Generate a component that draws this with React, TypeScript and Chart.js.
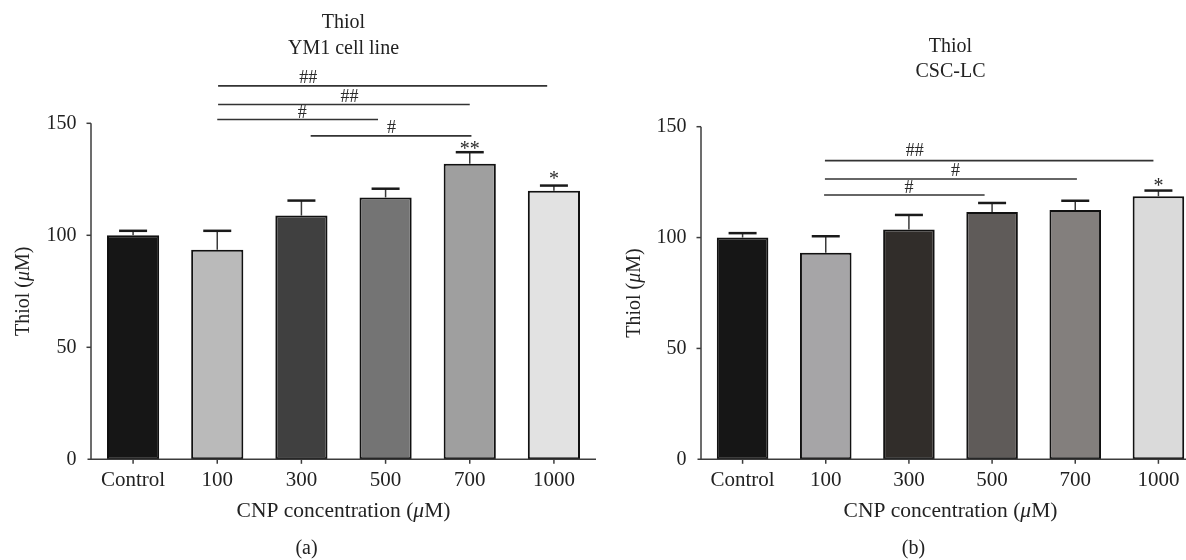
import React, { useEffect, useRef } from "react";
import { Chart, registerables } from "chart.js";

Chart.register(...registerables);

const FONT = '"Liberation Serif", "Times New Roman", serif';

// ---- data ----
const categories = ["Control", "100", "300", "500", "700", "1000"];
const yTicks = [0, 50, 100, 150];

const ym1Values = [100, 93.5, 108.8, 116.9, 131.9, 119.9];
const ym1Errors = [2, 8.5, 6.7, 3.9, 5.2, 2.3];
const ym1Colors = ["#161616", "#bababa", "#404040", "#747474", "#9f9f9f", "#e2e2e2"];
const ym1Sig = [
  { from: 1.01, to: 4.92, y: 166.7, label: "##", lx: 2.08, ly: 170.8 },
  { from: 1.01, to: 4.0, y: 158.4, label: "##", lx: 2.57, ly: 162.2 },
  { from: 1.0, to: 2.91, y: 151.7, label: "#", lx: 2.01, ly: 155.0 },
  { from: 2.11, to: 4.02, y: 144.4, label: "#", lx: 3.07, ly: 148.6 },
];
const ym1Stars = [
  { index: 4, label: "**", y: 140.5 },
  { index: 5, label: "*", y: 127.0 },
];

const cscValues = [100, 93.1, 103.6, 111.5, 112.4, 118.6];
const cscErrors = [2, 7.5, 6.6, 4.1, 4.2, 2.6];
const cscColors = ["#161616", "#a6a5a7", "#312d2a", "#5f5b59", "#837f7d", "#dadada"];
const cscSig = [
  { from: 0.99, to: 4.94, y: 134.7, label: "##", lx: 2.07, ly: 139.5 },
  { from: 0.99, to: 4.02, y: 126.4, label: "#", lx: 2.56, ly: 130.5 },
  { from: 0.98, to: 2.91, y: 119.2, label: "#", lx: 2.0, ly: 122.7 },
];
const cscStars = [{ index: 5, label: "*", y: 125.2 }];

type Panel = {
  values: number[];
  errors: number[];
  colors: string[];
  sig: { from: number; to: number; y: number; label: string; lx: number; ly: number }[];
  stars: { index: number; label: string; y: number }[];
  title: string[];
  titleY: number[];
  panelLabel: string;
  yMax: number;
  padTop: number;
  padRight: number;
  yWidth: number;
  yTitleX: number;
  width: number;
};

const BOTTOM = 459.3;
const H = 560;

const leftPanel: Panel = {
  values: ym1Values,
  errors: ym1Errors,
  colors: ym1Colors,
  sig: ym1Sig,
  stars: ym1Stars,
  title: ["Thiol", "YM1 cell line"],
  titleY: [22.7, 48.3],
  panelLabel: "(a)",
  yMax: 180,
  padTop: BOTTOM - 180 * 2.24,
  padRight: 4,
  yWidth: 91,
  yTitleX: 23.7,
  width: 600,
};

const rightPanel: Panel = {
  values: cscValues,
  errors: cscErrors,
  colors: cscColors,
  sig: cscSig,
  stars: cscStars,
  title: ["Thiol", "CSC-LC"],
  titleY: [46.7, 71.7],
  panelLabel: "(b)",
  yMax: 180,
  padTop: BOTTOM - 180 * 2.2173,
  padRight: 20,
  yWidth: 101,
  yTitleX: 34.4,
  width: 620,
};

type Part = { t: string; italic?: boolean };

function drawRich(ctx: CanvasRenderingContext2D, parts: Part[], x: number, y: number, size: number) {
  let total = 0;
  const widths = parts.map((p) => {
    ctx.font = `${p.italic ? "italic " : ""}${size}px ${FONT}`;
    const w = ctx.measureText(p.t).width;
    total += w;
    return w;
  });
  let cx = x - total / 2;
  ctx.textAlign = "left";
  parts.forEach((p, i) => {
    ctx.font = `${p.italic ? "italic " : ""}${size}px ${FONT}`;
    ctx.fillText(p.t, cx, y);
    cx += widths[i];
  });
}

function makePlugin(panel: Panel) {
  return {
    id: "thiolExtras",
    afterDatasetsDraw(chart: any) {
      const ctx: CanvasRenderingContext2D = chart.ctx;
      const xs = chart.scales.x;
      const ys = chart.scales.y;
      const ca = chart.chartArea;
      const y0 = ys.getPixelForValue(0);
      const yTop = ys.getPixelForValue(yTicks[yTicks.length - 1]);
      ctx.save();

      // error bars (upper only)
      panel.values.forEach((v, i) => {
        const xc = xs.getPixelForValue(i);
        const yb = ys.getPixelForValue(v);
        const ye = ys.getPixelForValue(v + panel.errors[i]);
        ctx.strokeStyle = "#3a3a3a";
        ctx.lineWidth = 1.5;
        ctx.beginPath();
        ctx.moveTo(xc, yb);
        ctx.lineTo(xc, ye);
        ctx.stroke();
        ctx.strokeStyle = "#1a1a1a";
        ctx.lineWidth = 2.5;
        ctx.beginPath();
        ctx.moveTo(xc - 14, ye);
        ctx.lineTo(xc + 14, ye);
        ctx.stroke();
      });

      // axes
      ctx.strokeStyle = "#3c3c3c";
      ctx.lineWidth = 1.5;
      ctx.beginPath();
      ctx.moveTo(ca.left, y0);
      ctx.lineTo(ca.left, yTop);
      ctx.stroke();
      ctx.beginPath();
      ctx.moveTo(ca.left - 3.5, y0);
      ctx.lineTo(ca.right, y0);
      ctx.stroke();
      yTicks.forEach((t) => {
        if (t === 0) return;
        const yy = ys.getPixelForValue(t);
        ctx.beginPath();
        ctx.moveTo(ca.left - 4.5, yy);
        ctx.lineTo(ca.left, yy);
        ctx.stroke();
      });
      categories.forEach((_, i) => {
        const xc = xs.getPixelForValue(i);
        ctx.beginPath();
        ctx.moveTo(xc, y0);
        ctx.lineTo(xc, y0 + 4.5);
        ctx.stroke();
      });

      // significance lines
      ctx.fillStyle = "#2a2a2a";
      panel.sig.forEach((s) => {
        const yy = ys.getPixelForValue(s.y);
        ctx.strokeStyle = "#333";
        ctx.lineWidth = 1.6;
        ctx.beginPath();
        ctx.moveTo(xs.getPixelForValue(s.from), yy);
        ctx.lineTo(xs.getPixelForValue(s.to), yy);
        ctx.stroke();
        ctx.font = `18px ${FONT}`;
        ctx.textAlign = "center";
        ctx.textBaseline = "alphabetic";
        ctx.fillText(s.label, xs.getPixelForValue(s.lx), ys.getPixelForValue(s.ly) + 0.34 * 18);
      });

      // stars
      panel.stars.forEach((s) => {
        ctx.font = `20px ${FONT}`;
        ctx.textAlign = "center";
        ctx.textBaseline = "alphabetic";
        ctx.fillText(s.label, xs.getPixelForValue(s.index), ys.getPixelForValue(s.y) + 0.5 * 20);
      });

      // titles
      const cx = (ca.left + ca.right) / 2;
      ctx.fillStyle = "#222";
      ctx.textBaseline = "middle";
      ctx.textAlign = "center";
      ctx.font = `20px ${FONT}`;
      panel.title.forEach((t, i) => ctx.fillText(t, cx, panel.titleY[i]));

      // x axis title
      drawRich(ctx, [{ t: "CNP concentration (" }, { t: "\u03bc", italic: true }, { t: "M)" }], cx, 511.7, 21.5);
      // panel label
      ctx.font = `20px ${FONT}`;
      ctx.textAlign = "center";
      ctx.fillText(panel.panelLabel, cx - 37, 548.3);

      // y axis title
      ctx.save();
      ctx.translate(panel.yTitleX, (y0 + yTop) / 2);
      ctx.rotate(-Math.PI / 2);
      drawRich(ctx, [{ t: "Thiol (" }, { t: "\u03bc", italic: true }, { t: "M)" }], 0, 0, 20);
      ctx.restore();

      ctx.restore();
    },
  };
}

function ChartPanel({ panel, left }: { panel: Panel; left: number }) {
  const ref = useRef<HTMLCanvasElement>(null);
  useEffect(() => {
    if (!ref.current) return;
    const chart = new Chart(ref.current, {
      type: "bar",
      data: {
        labels: categories,
        datasets: [
          {
            data: panel.values,
            backgroundColor: panel.colors,
            borderColor: "#111",
            borderWidth: 2,
            borderSkipped: false,
            barPercentage: 0.62,
            categoryPercentage: 1,
          },
        ],
      },
      options: {
        animation: false,
        responsive: false,
        devicePixelRatio: 1,
        layout: { padding: { top: panel.padTop, left: 0, right: panel.padRight, bottom: 0 } },
        plugins: { legend: { display: false }, tooltip: { enabled: false }, title: { display: false } },
        scales: {
          x: {
            grid: { display: false, drawTicks: true, tickLength: 5 },
            border: { display: false },
            ticks: { font: { family: FONT, size: 21 }, color: "#222", padding: 4, maxRotation: 0, autoSkip: false },
            afterFit: (s: any) => {
              s.height = H - BOTTOM;
            },
          },
          y: {
            min: 0,
            max: panel.yMax,
            grid: { display: false, drawTicks: true, tickLength: 5 },
            border: { display: false },
            ticks: { font: { family: FONT, size: 20 }, color: "#222", padding: 9.5 },
            afterBuildTicks: (s: any) => {
              s.ticks = yTicks.map((v) => ({ value: v }));
            },
            afterFit: (s: any) => {
              s.width = panel.yWidth;
            },
          },
        },
      },
      plugins: [makePlugin(panel)],
    } as any);
    return () => chart.destroy();
  }, [panel]);
  return (
    <canvas
      ref={ref}
      width={panel.width}
      height={H}
      style={{ position: "absolute", left, top: 0, width: panel.width, height: H }}
    />
  );
}

export default function App() {
  return (
    <div
      style={{
        position: "absolute",
        left: 0,
        top: 0,
        width: 1186,
        height: H,
        overflow: "hidden",
        background: "#fff",
      }}
    >
      <ChartPanel panel={leftPanel} left={0} />
      <ChartPanel panel={rightPanel} left={600} />
    </div>
  );
}
